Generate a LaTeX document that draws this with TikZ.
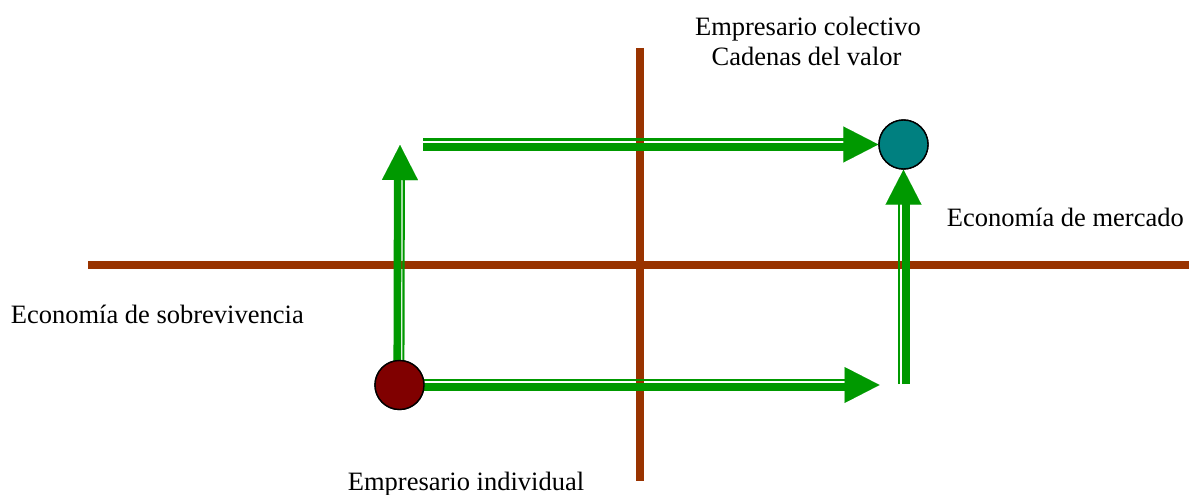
\documentclass[tikz,border=0pt]{standalone}
\usepackage{fontspec}
\setmainfont{Liberation Serif}
\usetikzlibrary{arrows.meta,calc}
\definecolor{axisbrown}{HTML}{993300}
\definecolor{arrowgreen}{HTML}{009900}
\definecolor{dotteal}{HTML}{008080}
\definecolor{dotred}{HTML}{800000}
\tikzset{
  axisline/.style={draw=axisbrown, line width=8pt},
  thinshaft/.style={draw=arrowgreen, line width=2.2pt},
  thickshaft/.style={draw=arrowgreen, line width=7.6pt},
  headtip/.style={draw=arrowgreen, fill=arrowgreen, line width=0.01pt, -{Triangle[length=35pt,width=36pt]}},
  dot/.style={circle, draw=black, line width=1.4pt, minimum size=49pt, inner sep=0pt},
  lbl/.style={font=\fontsize{26.5}{30}\selectfont, inner sep=0pt, anchor=base}
}
\begin{document}
\begin{tikzpicture}[x=1pt,y=-1pt]
\useasboundingbox (0,0) rectangle (1189,495);
% axes
\coordinate (hl) at (88,264.7);
\coordinate (hr) at (1189,264.7);
\coordinate (vt) at (639.7,48);
\coordinate (vb) at (639.7,481);
\draw[axisline] (hl) -- (hr);
\draw[axisline] (vt) -- (vb);
% dot positions
\coordinate (pind) at (399.5,385);
\coordinate (pcol) at (903.5,144.5);
\path (pind) node[dot] (indiv) {};
\path (pcol) node[dot] (colect) {};
% arrow 1: bottom horizontal
\coordinate (t1) at (879.5,385);
\draw[thinshaft] ($(indiv)+(0,-5.1)$) -- ($(t1)+(-30,-5.1)$);
\draw[thickshaft] ($(indiv)+(0,1.8)$) -- ($(t1)+(-30,1.8)$);
\draw[headtip] (indiv) -- (t1);
% arrow 2: left vertical
\coordinate (t2) at (400,145);
\draw[thickshaft] ($(indiv)+(-2.3,0)$) -- ($(t2)+(-2.3,30)$);
\draw[thinshaft] ($(indiv)+(3.8,0)$) -- ($(t2)+(3.8,30)$);
\draw[headtip] (indiv) -- (t2);
% arrow 3: top horizontal
\coordinate (s3) at (423,144.5);
\draw[thinshaft] ($(s3)+(0,-5)$) -- ($(colect.west)+(-30,-5)$);
\draw[thickshaft] ($(s3)+(0,2.5)$) -- ($(colect.west)+(-30,2.5)$);
\draw[headtip] (s3) -- (colect.west);
% arrow 4: right vertical
\coordinate (s4) at (903.5,384);
\draw[thinshaft] ($(s4)+(-4.5,0)$) -- ($(colect.south)+(-4.5,30)$);
\draw[thickshaft] ($(s4)+(2.5,0)$) -- ($(colect.south)+(2.5,30)$);
\draw[headtip] (s4) -- (colect.south);
% dots on top
\node[dot, fill=dotred] at (pind) {};
\node[dot, fill=dotteal] at (pcol) {};
% labels
\node[lbl] (top1) at (808,36) {Empresario colectivo};
\begin{scope}
  \clip (650,40) rectangle (1000,65.5);
  \node[lbl] (top2) at (806.5,66) {Cadenas del valor};
\end{scope}
\node[lbl] (mercado) at (1065.3,226.7) {Economía de mercado};
\node[lbl] (sobre) at (157.3,323) {Economía de sobrevivencia};
\node[lbl] (indlbl) at (466,490.5) {Empresario individual};
\end{tikzpicture}
\end{document}
